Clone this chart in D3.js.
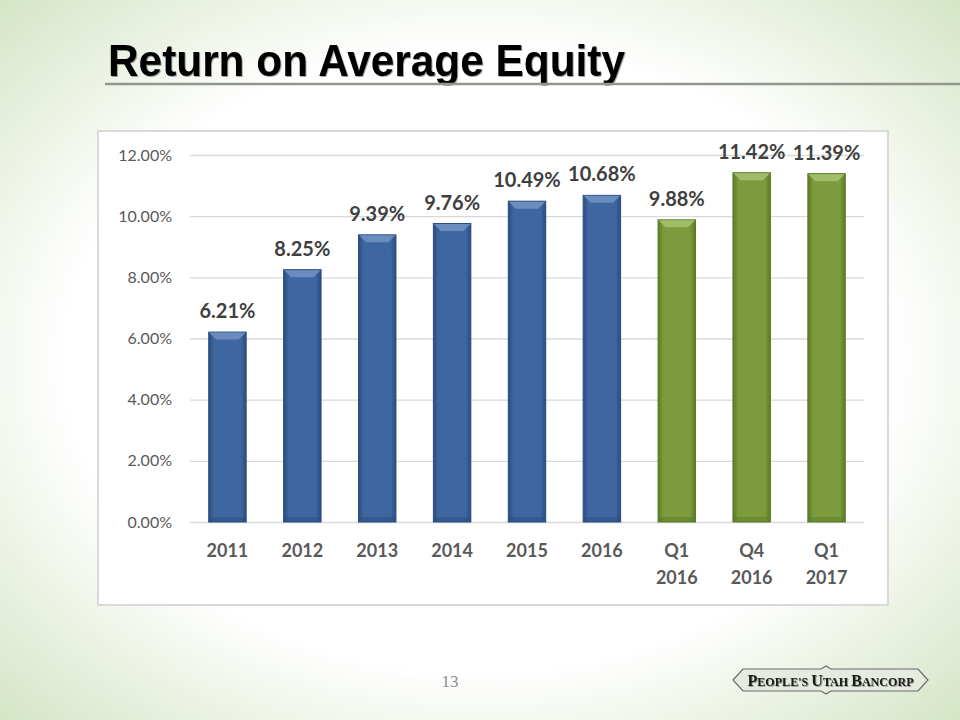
<!DOCTYPE html>
<meta charset="utf-8">
<style>
body {
	margin: 0;
	background: #ffffff;
}
svg text {
	font-family: Lato, "Open Sans", sans-serif;
}
</style>
<body>
<script src="https://d3js.org/d3.v7.min.js"></script>
<script>
var width = 960;
var height = 720;

// chart data
var categories = ['2011', '2012', '2013', '2014', '2015', '2016', 'Q1\n2016', 'Q4\n2016', 'Q1\n2017'];
var values = [6.21, 8.25, 9.39, 9.76, 10.49, 10.68, 9.88, 11.42, 11.39];
var groups = ['year', 'year', 'year', 'year', 'year', 'year', 'quarter', 'quarter', 'quarter'];
var yTicks = [0, 2, 4, 6, 8, 10, 12];

var colors = {
	year: {mid: '#3e67a1', edge: '#2b4c7e', top: '#6a8cbf'},
	quarter: {mid: '#7b9b3d', edge: '#5a7a27', top: '#a0bd68'}
};

var svg = d3.select('body')
	.append('svg')
	.attr('width', width)
	.attr('height', height);

var defs = svg.append('defs');

// page background: white centre, pale green edges
var bg = defs.append('radialGradient')
	.attr('id', 'bg')
	.attr('cx', '50%').attr('cy', '50%')
	.attr('r', '72%');
bg.append('stop').attr('offset', '60%').attr('stop-color', '#ffffff');
bg.append('stop').attr('offset', '100%').attr('stop-color', '#d3e3c2');

svg.append('rect')
	.attr('width', width)
	.attr('height', height)
	.style('fill', 'url(#bg)');

// bar side shading
Object.keys(colors).forEach(function(k) {
	var g = defs.append('linearGradient')
		.attr('id', 'bar-' + k)
		.attr('x1', '0%').attr('x2', '100%')
		.attr('y1', '0%').attr('y2', '0%');
	g.append('stop').attr('offset', '0%').attr('stop-color', colors[k].edge);
	g.append('stop').attr('offset', '14%').attr('stop-color', colors[k].mid);
	g.append('stop').attr('offset', '86%').attr('stop-color', colors[k].mid);
	g.append('stop').attr('offset', '100%').attr('stop-color', colors[k].edge);
});

var shadow = defs.append('filter').attr('id', 'shadow')
	.attr('x', '-5%').attr('y', '-20%').attr('width', '110%').attr('height', '140%');
shadow.append('feDropShadow')
	.attr('dx', 1).attr('dy', 1).attr('stdDeviation', 0.6)
	.attr('flood-color', '#000').attr('flood-opacity', 0.35);

// title
svg.append('text')
	.attr('x', 108)
	.attr('y', 76)
	.attr('textLength', 517)
	.attr('lengthAdjust', 'spacingAndGlyphs')
	.attr('filter', 'url(#shadow)')
	.style('font-family', '"Liberation Sans", Arial, sans-serif')
	.style('font-weight', 'bold')
	.style('font-size', '44px')
	.style('fill', '#000')
	.text('Return on Average Equity');

svg.append('line')
	.attr('x1', 105).attr('x2', 960)
	.attr('y1', 84).attr('y2', 84)
	.style('stroke', '#92978e')
	.style('stroke-width', 2.5);

// chart frame
svg.append('rect')
	.attr('x', 98).attr('y', 131)
	.attr('width', 790).attr('height', 474)
	.style('fill', '#fff')
	.style('stroke', '#d9d9d9')
	.style('stroke-width', 2);

var x = d3.scaleBand()
	.domain(categories)
	.range([190, 864])
	.paddingInner(0.5)
	.paddingOuter(0.25);

var y = d3.scaleLinear()
	.domain([0, 12])
	.range([522, 155]);

// gridlines
svg.append('g')
	.selectAll('line')
	.data(yTicks)
	.enter()
	.append('line')
	.attr('x1', 190).attr('x2', 864)
	.attr('y1', function(d) { return y(d) + 0.5; })
	.attr('y2', function(d) { return y(d) + 0.5; })
	.style('stroke', '#d9d9d9')
	.style('stroke-width', 1.3);

var yAxis = d3.axisLeft(y)
	.tickValues(yTicks)
	.tickSize(0)
	.tickPadding(0)
	.tickFormat(function(d) { return d.toFixed(2) + '%'; });

var ya = svg.append('g')
	.attr('transform', 'translate(172,0)')
	.call(yAxis);
ya.select('.domain').remove();
ya.selectAll('text')
	.style('font-family', 'Lato, sans-serif')
	.style('font-size', '16px')
	.style('fill', '#595959');

// bars
var bars = svg.append('g')
	.selectAll('g')
	.data(values)
	.enter()
	.append('g');

bars.append('rect')
	.attr('x', function(d, i) { return x(categories[i]); })
	.attr('y', function(d) { return y(d); })
	.attr('width', x.bandwidth())
	.attr('height', function(d) { return y(0) - y(d); })
	.style('fill', function(d, i) { return 'url(#bar-' + groups[i] + ')'; })
	.style('stroke', function(d, i) { return colors[groups[i]].edge; })
	.style('stroke-width', 1);

// top bevel
bars.append('path')
	.attr('d', function(d, i) {
		var x0 = x(categories[i]) + 0.5, x1 = x0 + x.bandwidth() - 1, t = y(d) + 0.5, b = 7;
		return 'M' + x0 + ',' + t + 'L' + x1 + ',' + t + 'L' + (x1 - b) + ',' + (t + b) +
			'L' + (x0 + b) + ',' + (t + b) + 'Z';
	})
	.style('fill', function(d, i) { return colors[groups[i]].top; });

// bottom shade
bars.append('rect')
	.attr('x', function(d, i) { return x(categories[i]) + 1; })
	.attr('y', y(0) - 5)
	.attr('width', x.bandwidth() - 2)
	.attr('height', 5)
	.style('fill', function(d, i) { return colors[groups[i]].edge; })
	.style('opacity', 0.45);

// value labels
bars.append('text')
	.attr('x', function(d, i) { return x(categories[i]) + x.bandwidth() / 2; })
	.attr('y', function(d) { return y(d) - 14; })
	.attr('text-anchor', 'middle')
	.style('font-weight', 'bold')
	.style('font-size', '20px')
	.style('fill', '#404040')
	.text(function(d) { return d.toFixed(2) + '%'; });

// category labels
var xl = svg.append('g')
	.selectAll('text')
	.data(categories)
	.enter()
	.append('text')
	.attr('x', function(d) { return x(d) + x.bandwidth() / 2; })
	.attr('y', 557)
	.attr('text-anchor', 'middle')
	.style('font-weight', 'bold')
	.style('font-size', '18px')
	.style('fill', '#595959');

xl.selectAll('tspan')
	.data(function(d) { return d.split('\n'); })
	.enter()
	.append('tspan')
	.attr('x', function() { return this.parentNode.getAttribute('x'); })
	.attr('dy', function(d, i) { return i ? 27 : 0; })
	.text(function(d) { return d; });

// page number
svg.append('text')
	.attr('x', 450)
	.attr('y', 687)
	.attr('text-anchor', 'middle')
	.style('font-family', '"Liberation Serif", serif')
	.style('font-size', '17px')
	.style('fill', '#8c8c8c')
	.text('13');

// logo
var logo = svg.append('g').attr('transform', 'translate(733,666)');
logo.append('path')
	.attr('d', 'M0,14 L10,3 L88,3 L93,0 L98,3 L185,3 L195,14 L185,25 L98,25 L93,28 L88,25 L10,25 Z')
	.style('fill', '#e6ebe0')
	.style('stroke', '#6a6a6a')
	.style('stroke-width', 1.2);
var logoText = logo.append('text')
	.attr('x', 97.5)
	.attr('y', 19.5)
	.attr('text-anchor', 'middle')
	.attr('textLength', 166)
	.attr('lengthAdjust', 'spacingAndGlyphs')
	.attr('filter', 'url(#shadow)')
	.style('font-family', '"Liberation Serif", serif')
	.style('font-weight', 'bold')
	.style('fill', '#1a1a1a');
[['P', 16], ["EOPLE'S ", 12], ['U', 16], ['TAH ', 12], ['B', 16], ['ANCORP', 12]].forEach(function(p) {
	logoText.append('tspan').style('font-size', p[1] + 'px').text(p[0]);
});
</script>
</body>
